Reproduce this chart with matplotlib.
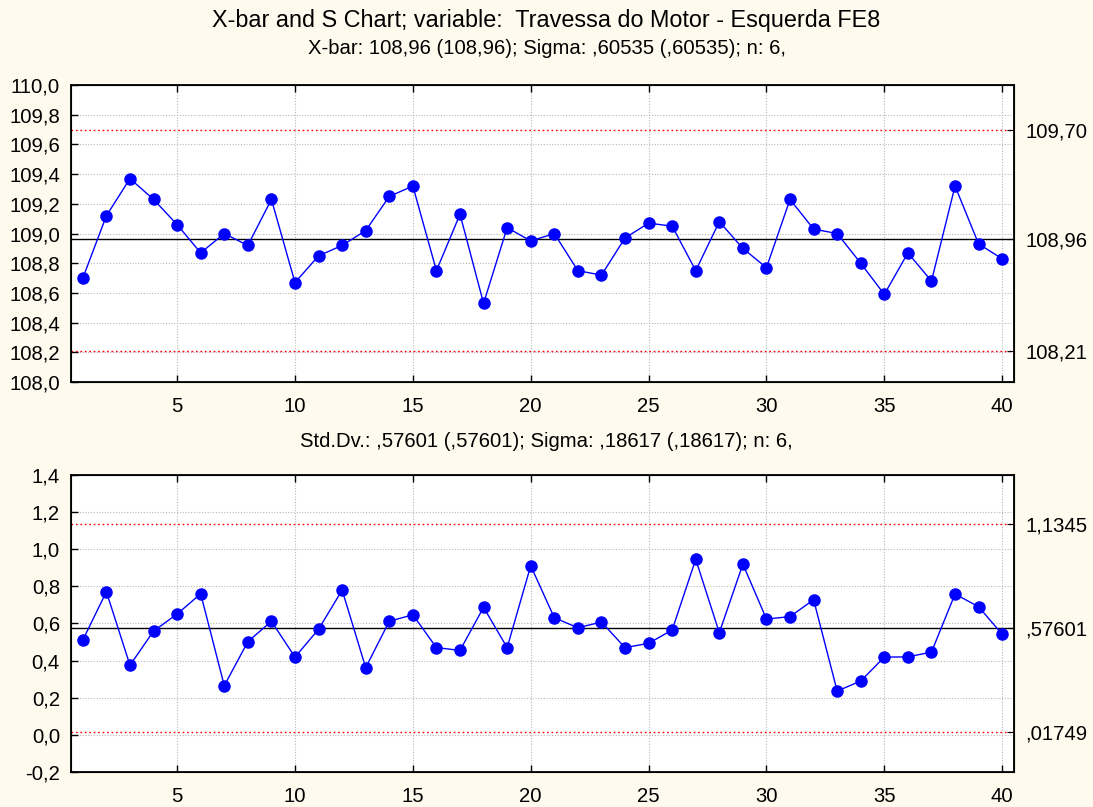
import numpy as np
import matplotlib.pyplot as plt
from matplotlib.ticker import FuncFormatter, MultipleLocator

plt.rcParams['font.family'] = ['Liberation Sans', 'DejaVu Sans']

samples = np.arange(1, 41)

xbar = [108.70, 109.12, 109.37, 109.23, 109.06, 108.87, 109.00, 108.92, 109.23, 108.67,
        108.85, 108.92, 109.02, 109.25, 109.32, 108.75, 109.13, 108.53, 109.04, 108.95,
        109.00, 108.75, 108.72, 108.97, 109.07, 109.05, 108.75, 109.08, 108.90, 108.77,
        109.23, 109.03, 109.00, 108.80, 108.59, 108.87, 108.68, 109.32, 108.93, 108.83]
xbar_center = 108.96
xbar_ucl = 109.70
xbar_lcl = 108.21

sd = [0.511, 0.771, 0.375, 0.559, 0.651, 0.760, 0.265, 0.502, 0.612, 0.419,
      0.569, 0.780, 0.362, 0.612, 0.647, 0.470, 0.455, 0.687, 0.470, 0.911,
      0.631, 0.577, 0.608, 0.470, 0.493, 0.565, 0.946, 0.550, 0.920, 0.624,
      0.637, 0.728, 0.236, 0.290, 0.419, 0.420, 0.446, 0.759, 0.690, 0.542]
sd_center = 0.57601
sd_ucl = 1.1345
sd_lcl = 0.01749

title = "X-bar and S Chart; variable:  Travessa do Motor - Esquerda FE8"
sub_top = "X-bar: 108,96 (108,96); Sigma: ,60535 (,60535); n: 6,"
sub_bot = "Std.Dv.: ,57601 (,57601); Sigma: ,18617 (,18617); n: 6,"

bg = '#fffaee'
fig = plt.figure(figsize=(10.93, 8.07), dpi=100, facecolor=bg)


def comma(fmt):
    return FuncFormatter(lambda v, p: (fmt % v).replace('.', ','))


def panel(rect, y, center, ucl, lcl, ylim, ystep, yfmt, right_labels):
    ax = fig.add_axes(rect)
    ax.set_facecolor('white')
    ax.plot(samples, y, color='#0000ff', lw=1, marker='o', ms=8, zorder=4)
    ax.axhline(center, color='black', lw=1, zorder=3)
    ax.axhline(ucl, color='red', lw=1, ls=(0, (1.2, 2)), zorder=3)
    ax.axhline(lcl, color='red', lw=1, ls=(0, (1.2, 2)), zorder=3)
    ax.set_xlim(0.5, 40.5)
    ax.set_ylim(*ylim)
    ax.xaxis.set_major_locator(MultipleLocator(5))
    ax.yaxis.set_major_locator(MultipleLocator(ystep))
    ax.yaxis.set_major_formatter(comma(yfmt))
    ax.grid(True, color='#b8b8b8', ls=(0, (1, 1.5)), lw=0.8)
    ax.tick_params(direction='in', top=True, right=True, labelsize=14.6, length=5, width=1)
    ax.tick_params(axis='x', pad=11)
    ax.tick_params(axis='y', pad=8)
    for s in ax.spines.values():
        s.set_linewidth(1.3)
    ax2 = ax.twinx()
    ax2.set_ylim(*ylim)
    ax2.set_yticks([ucl, center, lcl])
    ax2.set_yticklabels(right_labels)
    ax2.tick_params(direction='in', labelsize=14.6, length=5, pad=8)
    return ax


panel([0.065, 0.5266, 0.8627, 0.368], xbar, xbar_center, xbar_ucl, xbar_lcl,
      (108.0, 110.0), 0.2, '%.1f', ['109,70', '108,96', '108,21'])
panel([0.065, 0.0434, 0.8627, 0.368], sd, sd_center, sd_ucl, sd_lcl,
      (-0.2, 1.4), 0.2, '%.1f', ['1,1345', ',57601', ',01749'])

fig.text(0.5, 0.975, title, ha='center', va='center', fontsize=16.8)
fig.text(0.5, 0.9405, sub_top, ha='center', va='center', fontsize=14.6)
fig.text(0.5, 0.4535, sub_bot, ha='center', va='center', fontsize=14.6)

fig.savefig('out.png', dpi=100, facecolor=bg)
